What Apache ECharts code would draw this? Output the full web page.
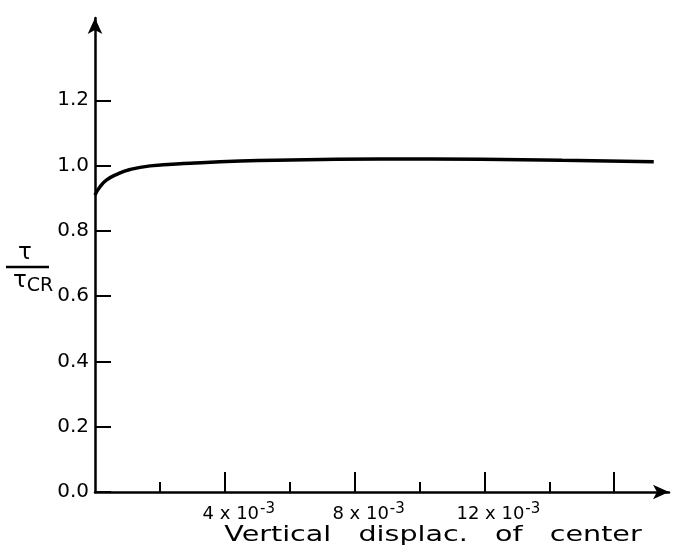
<!DOCTYPE html>
<html><head><meta charset="utf-8">
<script src="https://cdn.jsdelivr.net/npm/echarts@6/dist/echarts.min.js"></script>
<style>html,body{margin:0;padding:0;background:#fff}#c{width:679px;height:554px}</style>
</head><body><div id="c"></div>
<script>
var xValues = [0, 0.000155, 0.00036, 0.00067, 0.00108, 0.0017, 0.00294, 0.00448, 0.00603, 0.0088, 0.0119, 0.0144, 0.01722];
var yValues = [0.91, 0.935, 0.956, 0.973, 0.988, 0.999, 1.007, 1.014, 1.017, 1.020, 1.019, 1.016, 1.012];
var xMajorTicks = [0.004, 0.008, 0.012, 0.016];
var xMinorTicks = [0.002, 0.006, 0.010, 0.014];
var xLabelValues = [0.004, 0.008, 0.012];
var xLabelTexts = {"0.004": "4 x 10", "0.008": "8 x 10", "0.012": "12 x 10"};
var yTicks = [0, 0.2, 0.4, 0.6, 0.8, 1.0, 1.2];
var xName = "Vertical   displac.   of   center";

var FONT = "DejaVu Sans";
var pts = xValues.map(function (x, i) { return [x, yValues[i]]; });
var chart = echarts.init(document.getElementById('c'), null, {renderer: 'canvas'});
var common = {type: 'value', min: 0, max: 0.01769, position: 'bottom', splitLine: {show: false}};
chart.setOption({
  animation: false,
  backgroundColor: '#fff',
  grid: {left: 95, right: 10, top: 18, bottom: 62},
  xAxis: [
    Object.assign({}, common, {
      axisLine: {show: true, lineStyle: {color: '#000', width: 2.5}, symbol: ['none', 'arrow'], symbolSize: [11, 16]},
      axisTick: {show: true, inside: true, length: 20, customValues: xMajorTicks, lineStyle: {color: '#000', width: 2}},
      axisLabel: {
        show: true, customValues: xLabelValues, margin: 10,
        padding: [0, 0, 0, 28],
        formatter: function (v) { return '{b|' + (xLabelTexts[v.toFixed(3)] || '') + '}{s|-3}'; },
        rich: {
          b: {fontFamily: FONT, fontSize: 18, color: '#000'},
          s: {fontFamily: FONT, fontSize: 15, color: '#000', padding: [0, 0, 10, 1]}
        }
      }
    }),
    Object.assign({}, common, {
      axisLine: {show: false, onZero: false},
      axisTick: {show: true, inside: true, length: 10, customValues: xMinorTicks, lineStyle: {color: '#000', width: 2}},
      axisLabel: {show: false}
    })
  ],
  yAxis: {
    type: 'value', min: 0, max: 1.452,
    splitLine: {show: false},
    axisLine: {show: true, lineStyle: {color: '#000', width: 2.5}, symbol: ['none', 'arrow'], symbolSize: [11, 16]},
    axisTick: {show: true, inside: true, length: 16, customValues: yTicks, lineStyle: {color: '#000', width: 2}},
    axisLabel: {show: true, customValues: yTicks, margin: 6, fontFamily: FONT, fontSize: 20, color: '#000',
      formatter: function (v) { return v.toFixed(1); }}
  },
  graphic: [
    {type: 'text', x: 433, y: 536, scaleX: 1.36, style: {text: xName, fontFamily: FONT, fontSize: 21, fill: '#000', textAlign: 'center', textVerticalAlign: 'middle'}},
    {type: 'text', left: 18, top: 242, style: {text: 'τ', fontFamily: FONT, fontSize: 23, fill: '#000'}},
    {type: 'line', shape: {x1: 6, y1: 267, x2: 49, y2: 267}, style: {stroke: '#000', lineWidth: 2.5}},
    {type: 'text', left: 13, top: 270, style: {text: '{t|τ}{c|CR}', rich: {
      t: {fontFamily: FONT, fontSize: 23, color: '#000'},
      c: {fontFamily: FONT, fontSize: 19, color: '#000', padding: [9, 0, 0, 0]}
    }}}
  ],
  series: [{
    type: 'line', data: pts, smooth: true, showSymbol: false, symbol: 'none',
    lineStyle: {color: '#000', width: 3.5}, xAxisIndex: 0
  }]
});
</script></body></html>
